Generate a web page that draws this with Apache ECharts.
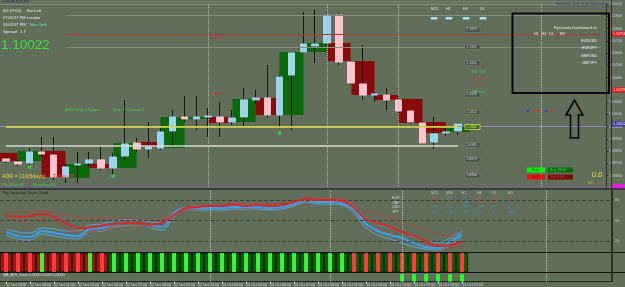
<!DOCTYPE html>
<html><head><meta charset="utf-8">
<script src="https://cdn.jsdelivr.net/npm/echarts@6/dist/echarts.min.js"></script>
<style>html,body{margin:0;padding:0;background:#606e5a;overflow:hidden}#c{width:625px;height:287px}</style>
</head><body><div id="c"></div>
<script>
// ---------- DATA ----------
const categories = ['22 Oct 2019','22 Oct 08:00','22 Oct 09:00','22 Oct 10:00','22 Oct 11:00','22 Oct 12:00','22 Oct 13:00','22 Oct 14:00','22 Oct 15:00','22 Oct 16:00',
 '22 Oct 17:00','22 Oct 18:00','22 Oct 19:00','22 Oct 20:00','22 Oct 21:00','22 Oct 22:00','22 Oct 23:00','23 Oct 00:00','23 Oct 01:00','23 Oct 02:00',
 '23 Oct 03:00','23 Oct 04:00','23 Oct 05:00','23 Oct 06:00','23 Oct 07:00','23 Oct 08:00','23 Oct 09:00','23 Oct 10:00','23 Oct 11:00','23 Oct 12:00',
 '23 Oct 13:00','23 Oct 14:00','23 Oct 15:00','23 Oct 16:00','23 Oct 17:00','23 Oct 18:00','23 Oct 19:00','23 Oct 20:00','23 Oct 21:00',
 '','','','','','','','','','','',''];
const h1Open  = [1.09737,1.09712,1.09704,1.09794,1.09769,1.09590,1.09688,1.09704,1.09729,1.09663,1.09761,1.09867,1.09818,1.09826,1.09965,1.10079,1.10063,1.10079,1.10079,1.10038,1.10079,1.10218,1.10234,1.10095,1.10421,1.10609,1.10658,1.10682,1.10910,1.10527,1.10348,1.10258,1.10258,1.10218,1.10128,1.10030,1.09875,1.09949,1.09965];
const h1Close = [1.09720,1.09696,1.09794,1.09777,1.09590,1.09672,1.09696,1.09729,1.09663,1.09753,1.09859,1.09818,1.09835,1.09957,1.10079,1.10063,1.10079,1.10087,1.10038,1.10071,1.10218,1.10234,1.10095,1.10405,1.10601,1.10674,1.10674,1.10910,1.10527,1.10356,1.10258,1.10267,1.10218,1.10128,1.10038,1.09867,1.09941,1.09957,1.10022];
const h1Low   = [1.09704,1.09680,1.09672,1.09753,1.09566,1.09541,1.09541,1.09672,1.09647,1.09606,1.09729,1.09794,1.09745,1.09810,1.09835,1.10038,1.09973,1.09916,1.09916,1.10014,1.09998,1.10185,1.10071,1.09998,1.09973,1.10601,1.10519,1.10658,1.10503,1.10340,1.10218,1.10201,1.10136,1.10111,1.10022,1.09859,1.09818,1.09924,1.09932];
const h1High  = [1.09753,1.09729,1.09826,1.09916,1.09916,1.09696,1.09794,1.09794,1.09835,1.09786,1.10218,1.09908,1.10038,1.09989,1.10136,1.10250,1.10250,1.10152,1.10201,1.10136,1.10315,1.10299,1.10503,1.10421,1.10609,1.10935,1.10951,1.10927,1.10927,1.10544,1.10666,1.10283,1.10315,1.10234,1.10144,1.10046,1.10079,1.09989,1.10038];
const htfIndex = [0,2,4,6,8,10,12,14,16,18,20,22,24,26,28,30,32,34,36,38];
const htfOpen  = [1.09786,1.09720,1.09802,1.09582,1.09696,1.09663,1.09875,1.09826,1.10063,1.10079,1.10038,1.10234,1.10095,1.10609,1.10682,1.10535,1.10258,1.10226,1.10038,1.09957];
const htfClose = [1.09720,1.09802,1.09590,1.09696,1.09663,1.09867,1.09835,1.10079,1.10079,1.10030,1.10226,1.10095,1.10609,1.10682,1.10535,1.10258,1.10218,1.10030,1.09949,1.10006];
const dotIndex = [2,9,23];
const dotPrice = [1.09672,1.09598,1.09949];
const bidPrice = 1.10022;
const weeklyLevels = [1.10756,1.10299];
const weeklyNames = ['Wk R1','Wk PP'];
const grayLevels = [1.10910,1.10650,1.10527,1.10397];
const yellowLevel = 1.09998;
const whiteLevel = 1.09843;
const tagLevels = [1.1079,1.1065,1.1052,1.1026,1.1012,1.0985,1.0973,1.0960];
const sessionIndex = [17,27,33,45];
// wave cloud (oscillator units)
const redMain = [37,35,36,38,35,29,24,24.5,26.5,28,29,29,27.5,29,37,44,45,46,46,47.5,46,47,46,47,50,53,52,52,51,44,33,29,25,20,16,11,6,7,10];
const redHi   = [41,40,40,41,39,37,35,34,34,34,34,33,32,33,39,45,46,47,47,49,48,49,48,49,51,54,54,54,53,48,41,38,34,30,26,22,18,16,16];
const redLo   = [33,31,31,33,30,24,20,20,22,24,25,26,25,26,34,42,43,44,44,45,44,45,44,45,48,51,50,50,49,41,28,23,19,14,10,7,4,4,6];
const blueMain= [20,16,15,21,19,17,16,23,24,28,29,29,27,25,38,44,44,44,44,45,45,45,44,45,48,52,50,50,49,42,28,21,17,14,9,5,4,10,18];
const blueHi  = [23,20,19,24,23,21,21,27,28,31,32,32,30,29,40,45,46,46,46,47,47,47,46,47,50,53,52,52,51,45,34,28,24,20,15,11,9,14,21];
const blueLo  = [17,13,12,18,16,14,13,20,21,25,26,26,24,22,35,42,42,42,42,43,43,43,42,43,46,50,48,48,47,39,24,17,13,9,5,3,2,7,15];
const osciLevels = [52,31.5,11];
const osciLabels = ['80','50','20'];
// histogram signals
const trendBase   = [-1,-1,-1,-1,-1,-1,-1,-1,-1, 1,1,1,1,1,1,1,1,1,1,1,1,1,1,1,1,1,1,1,1,1,1,1,1,1,1,1,1,1,1];
const trendStripe = [-1,-1,-1,1,-1,-1,-1,1,-1, 1,1,1,1,1,1,1,1,1,1,1,1,1,1,1,1,1,1,1,1, -1,-1,-1,-1,-1,-1,-1,-1,-1,-1];
const stochSignal = [0,0,0,0,0,0,0,0,0,0,0,0,0,0,0,0,0,0,0,0,0,0,0,0,0,0,0,0,0,0,0,0,0,1,1,1,1,1,1];
// strength table
const tfHeaders = ['M15','M30','H1','H4','D1','W1'];
const currencyRows = ['EUR :','GBP :','USD :','JPY :'];
const strengthValues = [[-8,12,9,-23,-18,-27],[-3,-6,26,-13,-9,3],[23,20,12,32,0,2],[16,16,13,6,0,167]];
const dashPairs = ['EURUSD','EURJPY','GBPUSD','GBPJPY'];

// ---------- CHART ----------
const BG = '#606e5a';
const FONT = '"Liberation Sans", Arial, sans-serif';
const chart = echarts.init(document.getElementById('c'), null, {renderer:'canvas'});
const GL = -4.5, GWID = 616.6;
const grids = [
  {left:GL, width:GWID, top:4, height:184},
  {left:GL, width:GWID, top:190, height:62},
  {left:GL, width:GWID, top:253, height:19},
  {left:GL, width:GWID, top:273, height:8.5},
  {left:GL, width:GWID, top:253, height:19}
];
function xa(g){return {type:'category', gridIndex:g, data:categories, boundaryGap:true,
  axisLine:{show:false}, axisTick:{show:false}, axisLabel:{show:false}, splitLine:{show:false}};}
const xAxes = [xa(0), xa(1), xa(2), xa(3), xa(4)];
xAxes[3].axisLine = {show:true, lineStyle:{color:'#232a22', width:1}};
xAxes[3].axisTick = {show:true, length:2, alignWithLabel:true, interval:(i,v)=>i%2===0 && v!=='', lineStyle:{color:'#c8ccd0'}};
xAxes[3].axisLabel = {show:true, interval:(i,v)=>i%2===0 && v!=='', align:'left', fontSize:3.7, color:'#d4d8dc', margin:1.5, fontFamily:FONT};

const hiddenY = (g,min,max)=>({type:'value', gridIndex:g, min, max, position:'right',
  axisLine:{show:true, lineStyle:{color:'#2c322a'}}, axisTick:{show:false}, axisLabel:{show:false}, splitLine:{show:false}});
const yAxes = [
  {type:'value', gridIndex:0, position:'right', min:1.0950, max:1.1100, interval:0.0010,
   axisLine:{show:true, lineStyle:{color:'#2c322a'}}, axisTick:{show:true, length:2, lineStyle:{color:'#2c322a'}},
   axisLabel:{fontSize:3.7, color:'#c6ccda', margin:2, fontFamily:FONT, formatter:v=>v.toFixed(5)}, splitLine:{show:false}},
  hiddenY(1,0,62), hiddenY(2,0,1), hiddenY(3,0,1.15),
  {type:'value', gridIndex:4, min:0, max:1, show:false}
];

const htfData = categories.slice(0, h1Open.length).map(()=>['-','-','-','-']);
htfIndex.forEach((idx,k)=>{const o=htfOpen[k], c=htfClose[k]; htfData[idx]=[o,c,Math.min(o,c),Math.max(o,c)];});
const wickData = h1Open.map((o,i)=>[o,h1Close[i],h1Low[i],h1High[i]]);
const bodyData = h1Open.map((o,i)=>[o,h1Close[i],Math.min(o,h1Close[i]),Math.max(o,h1Close[i])]);

const vLines = sessionIndex.map(i=>({xAxis:i, lineStyle:{color:'#a8c0c0', type:'dotted', width:1}, label:{show:false}}));
const mainLines = [
  ...grayLevels.map((v,k)=> k<2 ? [{coord:[5,v], lineStyle:{color:'#848e7f', width:1, type:'solid'}},{coord:[50,v]}] : {yAxis:v, lineStyle:{color:'#848e7f', width:1, type:'solid'}}),
  [{coord:[5,weeklyLevels[0]], lineStyle:{color:'#b03838', width:1, type:'solid'}},{coord:[50,weeklyLevels[0]]}],
  {yAxis:weeklyLevels[1], lineStyle:{color:'#b03838', width:1, type:'solid'}},
  {yAxis:bidPrice, lineStyle:{color:'#8c88b6', width:1, type:'solid'}},
  [{coord:[0,yellowLevel], lineStyle:{color:'#dede3c', width:1.6, type:'solid'}},{coord:[38.3,yellowLevel]}],
  [{coord:[0,whiteLevel], lineStyle:{color:'#d4d8cc', width:1.6, type:'solid'}},{coord:[38,whiteLevel]}],
  ...vLines
].map(d=>Array.isArray(d)?d:Object.assign({label:{show:false}},d));

function lineS(data,color,width,z,extra){return Object.assign({type:'line', xAxisIndex:1, yAxisIndex:1, data, smooth:0.4, symbol:'none',
  lineStyle:{color, width}, z, silent:true}, extra||{});}

const series = [
  {type:'candlestick', name:'H4', xAxisIndex:0, yAxisIndex:0, data:htfData, barWidth:24, z:1, silent:true,
   itemStyle:{color:'#0b680b', color0:'#890b0b', borderColor:'#0b680b', borderColor0:'#890b0b', borderWidth:0},
   markLine:{symbol:'none', silent:true, animation:false, label:{show:false}, data:mainLines}},
  {type:'candlestick', name:'wick', xAxisIndex:0, yAxisIndex:0, data:wickData, barWidth:1, z:3, silent:true,
   itemStyle:{color:'#141814', color0:'#141814', borderColor:'#141814', borderColor0:'#141814', borderWidth:1}},
  {type:'candlestick', name:'H1', xAxisIndex:0, yAxisIndex:0, data:bodyData, barWidth:7, z:4, silent:true,
   itemStyle:{color:'#9ed3ee', color0:'#ffc3cd', borderColor:'#9ed3ee', borderColor0:'#ffc3cd', borderWidth:1}},
  {type:'scatter', xAxisIndex:0, yAxisIndex:0, data:dotIndex.map((i,k)=>[i,dotPrice[k]]), symbolSize:4, z:6, silent:true,
   itemStyle:{color:'#3fd43f'}},
  lineS(blueLo,'#5aa6dc',1,2, {markLine:{symbol:'none', silent:true, animation:false,
     data:[...osciLevels.map((v,k)=>({yAxis:v, name:osciLabels[k], lineStyle:{color:'#3a4438', type:'dashed', width:1},
       label:{show:true, position:'end', formatter:'{b}', fontSize:3.7, color:'#c6ccda', distance:3}})), ...vLines]}}),
  lineS(blueHi,'#5aa6dc',1,2),
  lineS(redLo,'#b04a3c',1,3),
  lineS(redHi,'#b04a3c',1,3),
  lineS(blueMain,'#3a9fea',2.2,4),
  lineS(redMain,'#d42a2a',2,5),
  {type:'bar', xAxisIndex:2, yAxisIndex:2, data:trendBase.map(s=>({value:1, itemStyle:{color: s>0?'#0b5c0b':'#a01414'}})),
   barWidth:12, silent:true, itemStyle:{borderColor:'#0c160c', borderWidth:0.8}, z:2,
   markLine:{symbol:'none', silent:true, animation:false, data:vLines}},
  {type:'bar', xAxisIndex:4, yAxisIndex:4, data:trendStripe.map(s=>({value:1, itemStyle:{color: s>0?'#3cf03c':'#ff3c3c'}})),
   barWidth:4, silent:true, z:3},
  {type:'bar', xAxisIndex:3, yAxisIndex:3, data:stochSignal, barWidth:4, silent:true, itemStyle:{color:'#22ff22'}, z:2,
   markLine:{symbol:'none', silent:true, animation:false, data:vLines}}
];

chart.setOption({
  animation:false, backgroundColor:BG, textStyle:{fontFamily:FONT},
  grid:grids, xAxis:xAxes, yAxis:yAxes, series
});

// ---------- ANNOTATIONS ----------
const py = v => chart.convertToPixel({yAxisIndex:0}, v);
function T(x,y,text,color,size,extra){return Object.assign({type:'text', x, y, z:100, silent:true,
  style:Object.assign({text, fill:color, font:size+'px '+FONT, align:'left', verticalAlign:'top', textAlign:'left', textVerticalAlign:'top'},(extra||{}))});}
function R(x,y,w,h,fill,stroke,lw){return {type:'rect', z:90, silent:true, shape:{x,y,width:w,height:h}, style:{fill:fill||'none', stroke:stroke||null, lineWidth:lw||0}};}
function Ln(x1,y1,x2,y2,color,w){return {type:'line', z:95, silent:true, shape:{x1,y1,x2,y2}, style:{stroke:color, lineWidth:w}};}

const g = [];
// separators
g.push(Ln(0,187,611.5,187,'#7a5c9a',1));
g.push(Ln(0,189,625,189,'#2a302a',1.5));
g.push(Ln(0,252.5,625,252.5,'#101410',1.2));
g.push(Ln(0,272.5,625,272.5,'#101410',1.2));
g.push(Ln(611.5,0,611.5,282,'#2c322a',1));
g.push(Ln(0,2,611.5,2,'#7f897a',1));
// top-left info
g.push(T(2,0,'\u25BE EURUSD,H1','#1e2a4a',4.2));
g.push(T(3,9,'[02:57:00]','#eceff0',4));
g.push(T(27,9,'Bar Left','#eceff0',4));
g.push(T(3,16,'07:02:57 PM','#eceff0',4));
g.push(T(27,16,'London','#eceff0',4));
g.push(T(3,23,'03:02:57 PM','#eceff0',4));
g.push(T(27,23,'* New York','#5fe0e8',4));
g.push(T(3,30,'Spread:  1.7','#eceff0',4.2));
g.push(T(1,38,bidPrice.toFixed(5),'#3ee03e',13.5));
// ATR
g.push(T(65,108,'ATR (H4): 13 pips','#48d048',4.3));
g.push(T(113,108,'Line 7 Current 0','#48d048',4.3));
// ADR
g.push(T(2,174,'ADR = 110(5days)','#e8d840',5.3));
g.push(T(53,174,'Today: 86','#e04040',5));
g.push(T(2,182.5,'PrevDay:67','#50c050',4.3));
g.push(T(33,182.5,'RemDay:34','#50c050',4.3));
// weekly level names
weeklyLevels.forEach((v,k)=>g.push(T(212, py(v)+1.5, weeklyNames[k], '#d03434', 4)));
// timeframe buttons
[['M15',431],['H1',446],['H4',463],['D1',480]].forEach(([t,x])=>{
  g.push(T(x,6.5,t,'#dfe6ee',3.8));
  g.push({type:'rect', z:90, silent:true, shape:{x:x-0.5,y:17,width:7,height:2.6,r:1}, style:{fill:'#aee2f2'}});
});
// level tags
tagLevels.forEach(v=>{const y=py(v); g.push(R(465,y-2.5,15,5,'#4b5449','#7d857b',0.6)); g.push(T(466.5,y-1.8,v.toFixed(4),'#cdd4cd',3.4));});
{const y=py(bidPrice)+3; g.push(R(465,y-2.5,15,5,'#3b6a2c','#e0d850',0.8)); g.push(T(466.5,y-1.8,bidPrice.toFixed(4),'#e8e860',3.4));}
// colored pivot texts
[['R3  9.8','#44dd44',70],['R2  1.5','#ee3030',76.5],['R1  3.1','#ee3030',83],['PP  0.0','#44dd44',89.5]].forEach(([t,c,y])=>g.push(T(472,y,t,c,4)));
// right axis highlights
[[weeklyLevels[0],'#e01818'],[weeklyLevels[1],'#e01818'],[bidPrice,'#3a3aa8']].forEach(([v,c])=>{
  const y=py(v); g.push(R(612,y-2.5,13,5,c)); g.push(T(613,y-1.8,v.toFixed(5),'#f0f0f0',3.5));});
// dashboard
g.push(T(556,1.5,'EURUSD (D1) v1 (c) PipLevels','#2a3a6e',3.6));
g.push(R(512.5,13.5,96.5,79.5,'none','#0a0a0a',2));
g.push(T(597,26,'PipLevels Dashboard v1','#eef0f0',4,{align:'right',textAlign:'right'}));
g.push(T(534,31.5,'H1   H4   D1      W1','#eef0f0',3.6));
dashPairs.forEach((p,k)=>g.push(T(597,38.5+k*7.5,p,'#eef0f0',3.8,{align:'right',textAlign:'right'})));
[['#2a44c8',528],['#e03030',534],['#e03030',540],['#2a44c8',546],['#e03030',552]].forEach(([c,x])=>
  g.push({type:'circle', z:96, silent:true, shape:{cx:x,cy:111,r:1.3}, style:{fill:c}}));
g.push({type:'polygon', z:96, silent:true, shape:{points:[[574.5,100],[566,115],[570.5,115],[570.5,138],[578.5,138],[578.5,115],[583,115]]},
  style:{fill:'none', stroke:'#0a0a0a', lineWidth:1.6}});
// buy / sell panel
g.push(R(527,167.5,18,5,'#10ee10')); g.push(T(532,168.2,'Buy','#0a5a0a',3.8));
g.push(R(548,167.5,25,5,'#0a6a0a')); g.push(T(550,168.2,'Buy 18:00','#3ed23e',3.6));
g.push(R(527,174.5,18,5,'#ee1010')); g.push(T(532,175.2,'Sell','#7a0a0a',3.8));
g.push(R(548,174.5,25,5,'#7a0a0a')); g.push(T(550,175.2,'Sell 0:00','#d04040',3.6));
g.push(T(592,170.5,'0.0','#f2e43c',7.5));
g.push(T(588,181,'0.0','#c0d040',4)); g.push(T(598,181,'0.0','#d07030',4));
g.push(R(611.5,184,13.5,5,'#e020e0'));
// panel 2
g.push(T(3,191,'Pip Gaussian Wave Cloud','#1c221c',3.9));
tfHeaders.forEach((h,j)=>g.push(T(431+j*15.3,190.5,h,'#c2cac2',3.6)));
currencyRows.forEach((r,i)=>{
  g.push(T(392,196+i*4.5,r,'#d0d6d0',3.6));
  strengthValues[i].forEach((v,j)=>g.push(T(431+j*15.3,196+i*4.5,(v>0?'+':'')+v,v<0?'#e24a32':'#3f8fe8',3.6)));
});
// panel 4
g.push(T(3,273.3,'MA_ATR_Stoch 1.0000 0.0000 0.0000','#e0e4e0',3.6));

chart.setOption({graphic:{elements:g}});
</script></body></html>
